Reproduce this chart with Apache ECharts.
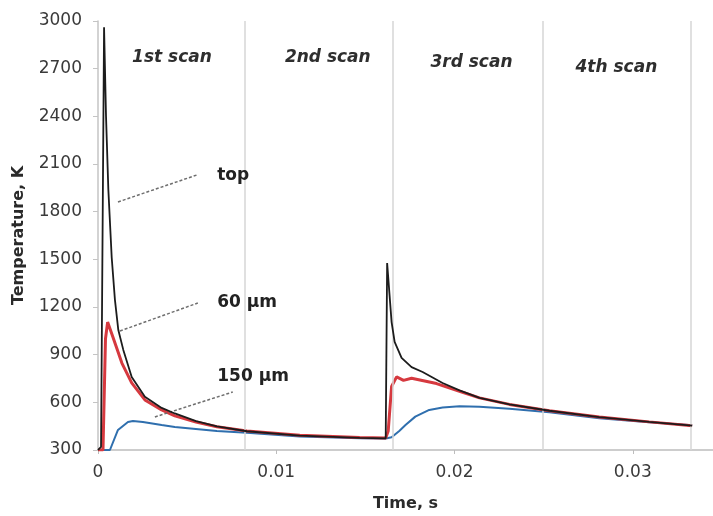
<!DOCTYPE html>
<html>
<head>
<meta charset="utf-8">
<script src="https://cdn.jsdelivr.net/npm/echarts@6/dist/echarts.min.js"></script>
<style>
  html, body { margin: 0; padding: 0; background: #fff; }
  #chart { width: 713px; height: 516px; }
</style>
</head>
<body>
<div id="chart"></div>
<script>
// time (s), temperature (K)
const topCurve = [
  [0, 300], [0.00017, 320], [0.00034, 2960], [0.00045, 2400], [0.00058, 1940],
  [0.00077, 1510], [0.00095, 1245], [0.00114, 1055], [0.00142, 930], [0.00189, 760],
  [0.00263, 635], [0.00357, 565], [0.00431, 530], [0.0055, 482], [0.00667, 448],
  [0.00835, 418], [0.01132, 390], [0.01468, 376], [0.01614, 373],
  [0.01622, 1477], [0.01647, 1105], [0.01664, 980], [0.01703, 880], [0.01759, 822],
  [0.01821, 791], [0.01933, 722], [0.02028, 675], [0.0214, 628], [0.02308, 587],
  [0.02532, 547], [0.02812, 507], [0.03092, 477], [0.03333, 453]
]
const mid60Curve = [
  [0, 300], [0.00028, 300], [0.00042, 1000], [0.00054, 1105], [0.00084, 1010],
  [0.00134, 847], [0.00189, 722], [0.00263, 615], [0.00357, 552], [0.00431, 515],
  [0.0055, 476], [0.00667, 446], [0.00835, 420], [0.01132, 393], [0.01468, 378],
  [0.01614, 375], [0.01628, 420], [0.01647, 700], [0.01675, 760], [0.01714, 738],
  [0.01759, 752], [0.01899, 718], [0.02028, 670], [0.0214, 628], [0.02308, 587],
  [0.02532, 547], [0.02812, 507], [0.03092, 477], [0.03333, 453]
]
const deep150Curve = [
  [0, 300], [0.00067, 300], [0.00112, 426], [0.00168, 476], [0.00196, 482],
  [0.00252, 476], [0.00357, 457], [0.00431, 445], [0.00667, 420], [0.00835, 408],
  [0.01132, 385], [0.01468, 374], [0.01614, 372], [0.01647, 380], [0.01690, 420],
  [0.01725, 457], [0.01780, 510], [0.01858, 552], [0.01933, 568], [0.02028, 575],
  [0.0214, 572], [0.02308, 560], [0.02532, 538], [0.02812, 500], [0.03092, 474],
  [0.03333, 455]
]
const scanBounds = [0.00824, 0.01655, 0.02495, 0.03325]
const scanNames = ['1st scan', '2nd scan', '3rd scan', '4th scan']
const yTicks = { min: 300, max: 3000, step: 300 }
const xTicks = { min: 0, max: 0.0345, step: 0.01 }

const font = 'DejaVu Sans'

const scanLabelAt = [[0.00415, 2767], [0.01289, 2767], [0.02095, 2736], [0.02908, 2704]]
const pointerLines = [
  [[0.00112, 1861], [0.00555, 2031]],
  [[0.00123, 1049], [0.0056, 1225]],
  [[0.00319, 508], [0.00756, 665]]
]
const pointerText = [
  ['top', [0.00666, 2024]],
  ['60 μm', [0.00666, 1225]],
  ['150 μm', [0.00666, 759]]
]

const chart = echarts.init(document.getElementById('chart'), null, { renderer: 'canvas' })

chart.setOption({
  animation: false,
  backgroundColor: '#fff',
  grid: { left: 98, right: 0, top: 21, bottom: 66, containLabel: false, outerBoundsMode: 'none' },
  xAxis: {
    type: 'value',
    min: xTicks.min,
    max: xTicks.max,
    interval: xTicks.step,
    name: 'Time, s',
    nameLocation: 'middle',
    nameGap: 46,
    nameTextStyle: { fontFamily: font, fontWeight: 'bold', fontSize: 16, color: '#2a2a2a' },
    axisLine: { lineStyle: { color: '#bdbdbd', width: 1.5 } },
    axisTick: { show: true, length: 4, lineStyle: { color: '#bdbdbd' } },
    axisLabel: {
      fontFamily: font, fontSize: 17, color: '#3a3a3a', margin: 14,
      showMaxLabel: false,
      formatter: v => (v === 0 ? '0' : String(+v.toFixed(3)))
    },
    splitLine: { show: false }
  },
  yAxis: {
    type: 'value',
    min: yTicks.min,
    max: yTicks.max,
    interval: yTicks.step,
    name: 'Temperature, K',
    nameLocation: 'middle',
    nameGap: 71,
    nameTextStyle: { fontFamily: font, fontWeight: 'bold', fontSize: 16, color: '#2a2a2a' },
    axisLine: { show: true, lineStyle: { color: '#c4c4c4', width: 1.5 } },
    axisTick: { show: true, length: 5, lineStyle: { color: '#c4c4c4' } },
    axisLabel: { fontFamily: font, fontSize: 17, color: '#3a3a3a', margin: 16, formatter: v => String(v) },
    splitLine: { show: false }
  },
  series: [
    {
      name: '150 μm',
      type: 'line',
      data: deep150Curve,
      showSymbol: false,
      symbol: 'none',
      z: 3,
      lineStyle: { color: '#2f6fae', width: 2 },
      // scan boundaries (precision high, otherwise markLine rounds to 0.01)
      markLine: {
        silent: true,
        precision: 6,
        symbol: ['none', 'none'],
        label: { show: false },
        lineStyle: { color: '#d6d6d6', width: 1.5, type: 'solid' },
        data: scanBounds.map(v => ({ xAxis: v }))
      },
      markPoint: {
        silent: true,
        symbol: 'circle',
        symbolSize: 1,
        itemStyle: { color: 'rgba(0,0,0,0)' },
        label: {
          show: true, position: 'inside',
          fontFamily: font, fontSize: 17, fontWeight: 'bold', fontStyle: 'italic', color: '#2e2e2e'
        },
        data: scanNames.map((s, i) => ({ coord: scanLabelAt[i], label: { formatter: s } }))
      }
    },
    {
      name: '60 μm',
      type: 'line',
      data: mid60Curve,
      showSymbol: false,
      symbol: 'none',
      z: 4,
      lineStyle: { color: '#d6393f', width: 3 },
      // pointer lines to the curve names
      markLine: {
        silent: true,
        precision: 6,
        symbol: ['none', 'none'],
        label: { show: false },
        lineStyle: { color: '#6e6e6e', width: 1.5, type: [3, 2] },
        data: pointerLines.map(p => [{ coord: p[0] }, { coord: p[1] }])
      },
      markPoint: {
        silent: true,
        symbol: 'circle',
        symbolSize: 1,
        itemStyle: { color: 'rgba(0,0,0,0)' },
        label: {
          show: true, position: 'right', distance: 0,
          fontFamily: font, fontSize: 17, fontWeight: 'bold', color: '#222'
        },
        data: pointerText.map(p => ({ coord: p[1], label: { formatter: p[0] } }))
      }
    },
    {
      name: 'top',
      type: 'line',
      data: topCurve,
      showSymbol: false,
      symbol: 'none',
      z: 5,
      lineStyle: { color: '#1c1c1c', width: 1.8 }
    }
  ]
})
</script>
</body>
</html>
